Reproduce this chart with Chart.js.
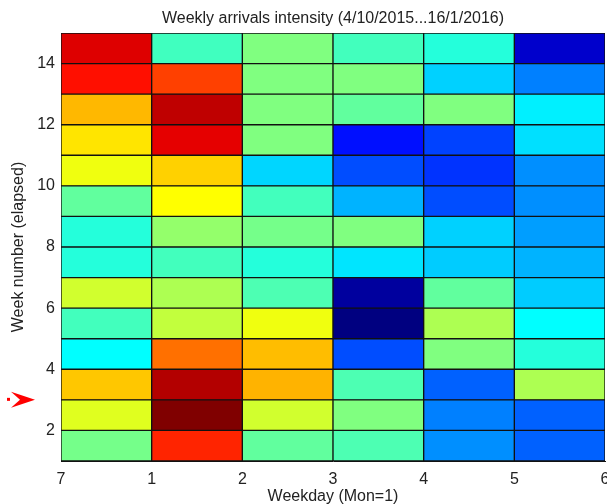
<!DOCTYPE html>
<html>
<head>
<meta charset="utf-8">
<script src="https://cdn.jsdelivr.net/npm/chart.js@4.4.1/dist/chart.umd.min.js"></script>
<style>
  html, body { margin: 0; padding: 0; background: #fff; }
  #wrap { width: 607px; height: 504px; position: relative; }
</style>
</head>
<body>
<div id="wrap"><canvas id="heat"></canvas></div>
<script>
// Weekly arrivals intensity heatmap (jet colormap, values 0..1)
// columns in plotted order; tick labels sit on the cell edges
const dayTicks = ["7", "1", "2", "3", "4", "5", "6"];
const weekTicks = [2, 4, 6, 8, 10, 12, 14];
const weeks = [1, 2, 3, 4, 5, 6, 7, 8, 9, 10, 11, 12, 13, 14];

// one row per week (week 1 first), six columns Sun..Fri
const intensity = [
    [0.49, 0.84, 0.47, 0.45, 0.265, 0.22],
    [0.595, 1.00, 0.58, 0.50, 0.25, 0.22],
    [0.68, 0.95, 0.70, 0.45, 0.22, 0.545],
    [0.375, 0.765, 0.69, 0.20, 0.50, 0.41],
    [0.44, 0.565, 0.61, 0.00, 0.545, 0.375],
    [0.58, 0.545, 0.45, 0.03, 0.47, 0.325],
    [0.41, 0.44, 0.41, 0.35, 0.325, 0.30],
    [0.41, 0.52, 0.49, 0.50, 0.33, 0.28],
    [0.47, 0.625, 0.44, 0.30, 0.20, 0.265],
    [0.61, 0.67, 0.335, 0.20, 0.175, 0.265],
    [0.65, 0.90, 0.50, 0.14, 0.19, 0.345],
    [0.695, 0.9375, 0.50, 0.47, 0.50, 0.36],
    [0.86, 0.8125, 0.50, 0.50, 0.33, 0.25],
    [0.907, 0.4375, 0.50, 0.44, 0.41, 0.075],
];

const markedWeek = 3; // red arrow on the left

function jet(v) {
    const c = x => Math.round(255 * Math.max(0, Math.min(1, x)));
    const r = c(1.5 - Math.abs(4 * v - 3));
    const g = c(1.5 - Math.abs(4 * v - 2));
    const b = c(1.5 - Math.abs(4 * v - 1));
    return `rgb(${r},${g},${b})`;
}

const datasets = weeks.map((wk, i) => ({
    label: "week " + wk,
    data: intensity[i].map((v, col) => ({ x: col + 0.5, y: [wk, wk + 1], v })),
    backgroundColor: intensity[i].map(jet),
    borderColor: "#111",
    borderWidth: 1,
    borderSkipped: false,
    barPercentage: 1,
    categoryPercentage: 1,
}));

const FONT = "'Liberation Sans', Arial, sans-serif";
const TXT = "#222";

const arrowPlugin = {
    id: "arrow",
    afterDraw(chart) {
        const ctx = chart.ctx;
        const y = chart.scales.y.getPixelForValue(markedWeek);
        ctx.save();
        ctx.fillStyle = "#f00";
        ctx.fillRect(7, y - 2, 3, 3);
        ctx.beginPath();
        ctx.moveTo(11, y - 8);
        ctx.lineTo(35, y);
        ctx.lineTo(11, y + 8);
        ctx.lineTo(20, y);
        ctx.closePath();
        ctx.fill();
        ctx.restore();
    }
};

new Chart(document.getElementById("heat").getContext("2d"), {
    type: "bar",
    data: { datasets },
    options: {
        responsive: true,
        maintainAspectRatio: false,
        animation: false,
        layout: { padding: { left: 0, right: 0, top: 0, bottom: 0 } },
        plugins: {
            legend: { display: false },
            tooltip: { enabled: false },
            title: {
                display: true,
                fullSize: false,
                text: "Weekly arrivals intensity (4/10/2015...16/1/2016)",
                color: TXT,
                font: { family: FONT, size: 16, weight: "normal" },
                padding: { top: 9, bottom: 4.8 },
            },
        },
        scales: {
            x: {
                type: "linear",
                stacked: true,
                offset: false,
                min: 0,
                max: 6,
                grid: { display: false, tickLength: 0 },
                border: { display: true, color: "#111" },
                afterBuildTicks: s => { s.ticks = dayTicks.map((_, i) => ({ value: i })); },
                afterFit: s => { s.height = 43; s.paddingRight = 2; s.paddingLeft = 0; },
                ticks: {
                    color: TXT,
                    font: { family: FONT, size: 16 },
                    padding: 9,
                    maxRotation: 0,
                    autoSkip: false,
                    callback: v => dayTicks[v],
                },
                title: {
                    display: true,
                    text: "Weekday (Mon=1)",
                    color: TXT,
                    font: { family: FONT, size: 16 },
                    padding: { top: 0, bottom: -2 },
                },
            },
            y: {
                type: "linear",
                min: 1,
                max: 15,
                grid: { display: false, tickLength: 0 },
                border: { display: true, color: "#111" },
                afterBuildTicks: s => { s.ticks = weekTicks.map(v => ({ value: v })); },
                afterFit: s => { s.width = 61; },
                ticks: {
                    color: TXT,
                    font: { family: FONT, size: 16 },
                    padding: 6,
                },
                title: {
                    display: true,
                    text: "Week number (elapsed)",
                    color: TXT,
                    font: { family: FONT, size: 16 },
                    padding: { top: 9, bottom: 0 },
                },
            },
        },
    },
    plugins: [arrowPlugin],
});
</script>
</body>
</html>
